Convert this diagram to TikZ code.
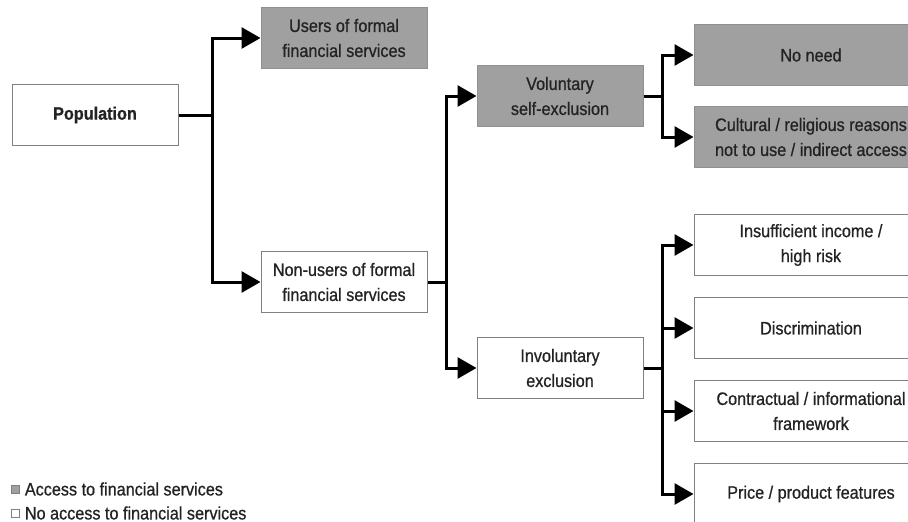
\documentclass[tikz,border=0pt]{standalone}
\usepackage{fontspec}
\setmainfont{Liberation Sans}[FakeStretch=0.9, FakeBold=0.8]
\usetikzlibrary{positioning,arrows.meta}
\definecolor{boxgray}{RGB}{160,160,160}
\definecolor{edgegray}{RGB}{128,128,128}
\definecolor{textgray}{RGB}{35,35,35}

\begin{document}
\begin{tikzpicture}[x=1pt, y=-1pt, font=\fontsize{18}{25}\selectfont, text=textgray,
    main/.style = {draw=edgegray, line width=1pt, rectangle, align=center, minimum width=166pt, minimum height=61pt, inner sep=2pt},
    shaded/.style = {main, fill=boxgray, draw=boxgray!90!black},
    wide/.style = {minimum width=234pt},
    conn/.style = {line width=3pt, -{Triangle[length=19pt,width=21pt]}}
    ]
\useasboundingbox (0,0) rectangle (908,522);

\node[main] (0) at (95,115) {\textbf{Population}};
\node[shaded] (1) [above right=15pt and 82pt of 0] {Users of formal\\financial services};
\node[main] (2) [below right=105pt and 82pt of 0] {Non-users of formal\\financial services};
\node[shaded] (3) [above right=124pt and 49pt of 2] {Voluntary\\self-exclusion};
\node[main] (4) [below right=24pt and 49pt of 2] {Involuntary\\exclusion};
\node[shaded, wide] (5) [right=50pt of 3, yshift=41pt] {No need};
\node[shaded, wide] (6) [below=20pt of 5] {Cultural / religious reasons\\not to use / indirect access};
\node[main, wide] (7) [right=50pt of 4, yshift=123pt] {Insufficient income /\\high risk};
\node[main, wide] (8) [below=21pt of 7] {Discrimination};
\node[main, wide] (9) [below=21pt of 8] {Contractual / informational\\framework};
\node[main, wide] (10) [below=21pt of 9] {Price / product features};

% legend
\node (11) [fill=boxgray, draw=edgegray, minimum size=8pt, inner sep=0pt] at (15.5,489) {};
\node (12) [right=5pt of 11, inner sep=0pt, font=\fontsize{18}{20}\selectfont] {Access to financial services};
\node (13) [fill=white, draw=edgegray, minimum size=8pt, inner sep=0pt] at (15.5,513) {};
\node (14) [right=5pt of 13, inner sep=0pt, font=\fontsize{18}{20}\selectfont] {No access to financial services};

\draw[conn] (0.east) -- ++(34pt,0) coordinate (c0) |- (1);
\draw[conn] (c0) |- (2);
\draw[conn] (2.east) -- ++(19pt,0) coordinate (c2) |- (3);
\draw[conn] (c2) |- (4);
\draw[conn] (3.east) -- ++(19pt,0) coordinate (c3) |- (5);
\draw[conn] (c3) |- (6);
\draw[conn] (4.east) -- ++(19pt,0) coordinate (c4) |- (7);
\foreach \n in {8,9,10}
    \draw[conn] (c4) |- (\n);

\end{tikzpicture}
\end{document}
